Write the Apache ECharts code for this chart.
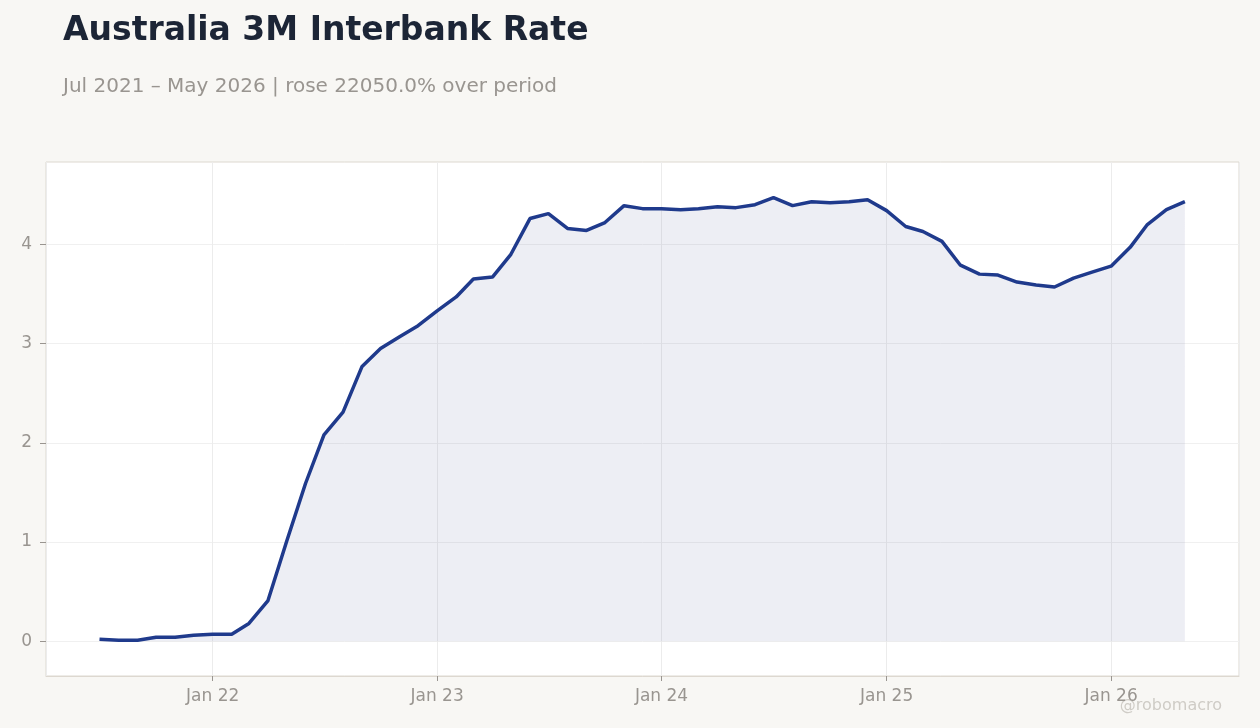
<!DOCTYPE html>
<html>
<head>
<meta charset="utf-8">
<script src="https://cdn.jsdelivr.net/npm/echarts@6/dist/echarts.min.js"></script>
<style>
  html, body { margin: 0; padding: 0; background: #f8f7f4; }
  #chart { width: 1260px; height: 728px; }
</style>
</head>
<body>
<div id="chart"></div>
<script>
const months = [
  '2021-07-01','2021-08-01','2021-09-01','2021-10-01','2021-11-01','2021-12-01',
  '2022-01-01','2022-02-01','2022-03-01','2022-04-01','2022-05-01','2022-06-01',
  '2022-07-01','2022-08-01','2022-09-01','2022-10-01','2022-11-01','2022-12-01',
  '2023-01-01','2023-02-01','2023-03-01','2023-04-01','2023-05-01','2023-06-01',
  '2023-07-01','2023-08-01','2023-09-01','2023-10-01','2023-11-01','2023-12-01',
  '2024-01-01','2024-02-01','2024-03-01','2024-04-01','2024-05-01','2024-06-01',
  '2024-07-01','2024-08-01','2024-09-01','2024-10-01','2024-11-01','2024-12-01',
  '2025-01-01','2025-02-01','2025-03-01','2025-04-01','2025-05-01','2025-06-01',
  '2025-07-01','2025-08-01','2025-09-01','2025-10-01','2025-11-01','2025-12-01',
  '2026-01-01','2026-02-01','2026-03-01','2026-04-01','2026-05-01'
];
const rates = [
  0.02, 0.01, 0.01, 0.04, 0.04, 0.06,
  0.07, 0.07, 0.18, 0.41, 1.00, 1.59, 2.08, 2.31, 2.77, 2.95, 3.07, 3.18,
  3.33, 3.47, 3.65, 3.67, 3.90, 4.26, 4.31, 4.16, 4.14, 4.22, 4.39, 4.36,
  4.36, 4.35, 4.36, 4.38, 4.37, 4.40, 4.47, 4.39, 4.43, 4.42, 4.43, 4.45,
  4.34, 4.18, 4.13, 4.03, 3.79, 3.70, 3.69, 3.62, 3.59, 3.57, 3.66, 3.72,
  3.78, 3.97, 4.20, 4.35, 4.43
];
const yTicks = [0, 1, 2, 3, 4];
const monthNames = ['Jan','Feb','Mar','Apr','May','Jun','Jul','Aug','Sep','Oct','Nov','Dec'];

const titleText = 'Australia 3M Interbank Rate';
const subtitleText = 'Jul 2021 – May 2026 | rose 22050.0% over period';
const watermark = '@robomacro';

const seriesData = months.map((m, i) => [m, rates[i]]);
const DAY = 24 * 3600 * 1000;

const chart = echarts.init(document.getElementById('chart'));
chart.setOption({
  backgroundColor: '#f8f7f4',
  animation: false,
  textStyle: { fontFamily: 'DejaVu Sans' },
  title: [
    {
      text: titleText,
      left: 58, top: 10,
      textStyle: { fontFamily: 'DejaVu Sans', fontWeight: 'bold', fontSize: 33, color: '#1c2536' }
    },
    {
      text: subtitleText,
      left: 58, top: 72,
      textStyle: { fontFamily: 'DejaVu Sans', fontWeight: 'normal', fontSize: 20, color: '#999590' }
    }
  ],
  graphic: [{
    type: 'text',
    right: 38, top: 698,
    style: { text: watermark, fontFamily: 'DejaVu Sans', fontSize: 16, fill: '#cfccc6' }
  }],
  grid: {
    left: 46, right: 21, top: 162, bottom: 52,
    show: true, backgroundColor: '#ffffff', borderColor: '#ddd8d0', borderWidth: 1,
    containLabel: false
  },
  xAxis: {
    type: 'time',
    min: new Date('2021-04-05').getTime(),
    max: new Date('2026-07-28').getTime(),
    minInterval: 365 * DAY,
    maxInterval: 366 * DAY,
    splitNumber: 5,
    axisLine: { show: true, onZero: false, lineStyle: { color: '#ddd8d0' } },
    axisTick: { show: true, length: 5, lineStyle: { color: '#999590' } },
    axisLabel: {
      fontSize: 17, color: '#999590', margin: 12, fontFamily: 'DejaVu Sans',
      showMinLabel: false, showMaxLabel: false,
      formatter: function (v) {
        const d = new Date(v);
        if (d.getMonth() !== 0 || d.getDate() !== 1) return '';
        return monthNames[d.getMonth()] + ' ' + String(d.getFullYear()).slice(2);
      }
    },
    splitLine: { show: true, lineStyle: { color: '#ececec', width: 1 } }
  },
  yAxis: {
    type: 'value',
    min: -0.35, max: 4.83,
    splitNumber: 5,
    axisLine: { show: false },
    axisTick: { show: true, length: 6, lineStyle: { color: '#999590' },
      customValues: yTicks },
    axisLabel: {
      fontSize: 17, color: '#999590', margin: 14, fontFamily: 'DejaVu Sans',
      customValues: yTicks,
      formatter: function (v) { return Number.isInteger(v) ? String(v) : ''; }
    },
    splitLine: { show: true, lineStyle: { color: '#f0f0f0', width: 1 } }
  },
  series: [{
    type: 'line',
    data: seriesData,
    showSymbol: false,
    symbol: 'none',
    lineStyle: { color: '#1f3a8c', width: 3.5 },
    areaStyle: { color: 'rgba(75,85,145,0.1)', opacity: 1, origin: 0 },
    z: 3
  }]
});
</script>
</body>
</html>
